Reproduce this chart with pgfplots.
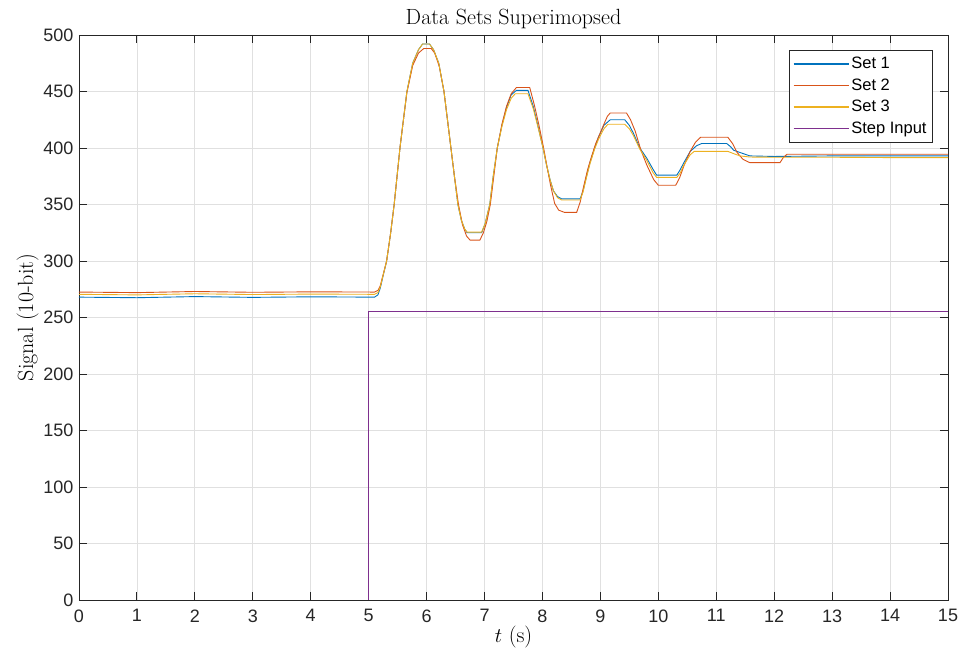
\documentclass[border=0pt]{standalone}
\usepackage{fontspec}
\usepackage{pgfplots}
\pgfplotsset{compat=1.18}
\newfontfamily\hv{Liberation Sans}
\definecolor{mblue}{rgb}{0,0.447,0.741}
\definecolor{mred}{rgb}{0.85,0.325,0.098}
\definecolor{myellow}{rgb}{0.929,0.694,0.125}
\definecolor{mpurple}{rgb}{0.494,0.184,0.556}
\definecolor{axgray}{rgb}{0.15,0.15,0.15}
\begin{document}
\begin{tikzpicture}
\begin{axis}[
  scale only axis,
  width=869pt, height=565pt,
  xmin=0, xmax=15, ymin=0, ymax=500,
  xtick={0,1,...,15}, ytick={0,50,...,500},
  grid=major,
  grid style={color=black!12, line width=0.8pt},
  axis line style={color=axgray, line width=0.9pt},
  tick align=inside,
  major tick length=8pt,
  tick style={color=axgray, line width=0.9pt},
  /pgf/number format/assume math mode=true,
  tick label style={font=\fontsize{18}{21}\selectfont\hv, text=axgray},
  xticklabel style={yshift=-6pt},
  yticklabel style={xshift=-2pt},
  title={Data Sets Superimopsed},
  title style={font=\fontsize{22}{26}\selectfont, yshift=-3pt},
  xlabel={$t$ (s)},
  ylabel={Signal (10-bit)},
  label style={font=\fontsize{22}{26}\selectfont},
  xlabel style={yshift=3pt},
  ylabel style={yshift=-2pt},
  legend style={at={(0.9827,0.9735)}, anchor=north east,
    font=\fontsize{16.5}{18}\selectfont\hv, draw=axgray, line width=0.8pt,
    fill=white, inner xsep=4pt, inner ysep=5pt, row sep=4.5pt,
    nodes={inner sep=2pt}},
  legend cell align=left,
  legend image code/.code={\draw[#1, line width=1.3pt] (0pt,0pt) -- (55pt,0pt);},
  every axis plot/.append style={line width=0.9pt},
]
% Set 1
\addplot[mblue] coordinates {
(0,268) (1,267.5) (2,268.5) (3,267.8) (4,268.3) (5.10,268)
(5.16,270) (5.20,276) (5.25,287) (5.31,300) (5.38,325) (5.44,350) (5.49,375)
(5.54,400) (5.60,425) (5.66,450) (5.76,475) (5.86,487) (5.93,492) (6.05,492)
(6.12,487) (6.21,475) (6.30,450) (6.36,425) (6.42,400) (6.48,375) (6.54,350)
(6.60,336) (6.66,328) (6.70,325) (6.95,325) (7.01,333) (7.09,350) (7.15,375)
(7.22,400) (7.30,420) (7.38,436) (7.46,447) (7.55,451) (7.75,451) (7.84,437)
(7.92,420) (8.01,400) (8.07,385) (8.13,372) (8.19,362) (8.26,357) (8.33,355)
(8.65,355) (8.70,362) (8.76,375) (8.82,387) (8.90,400) (8.97,410) (9.06,420)
(9.17,425) (9.42,425) (9.50,420) (9.57,413) (9.68,400) (9.80,391) (9.91,381)
(9.97,376) (10.32,376) (10.38,381) (10.43,386) (10.55,397) (10.66,402)
(10.75,404) (11.18,404) (11.25,401) (11.30,398) (11.41,396) (11.58,393)
(12,392.5) (13,393) (14,393) (15,393)
};
\addlegendentry{Set 1}
% Set 2
\addplot[mred] coordinates {
(0,272.5) (1,272) (2,273) (3,272.3) (4,272.7) (5.10,272.5)
(5.16,274) (5.20,278) (5.25,288) (5.31,300) (5.38,325) (5.44,350) (5.49,375)
(5.54,400) (5.60,425) (5.66,449) (5.76,473) (5.86,484) (5.95,488) (6.08,488)
(6.14,484) (6.22,472) (6.30,450) (6.36,425) (6.42,400) (6.48,375) (6.55,350)
(6.62,332) (6.69,322) (6.75,318.5) (6.92,318.5) (6.98,325) (7.04,335) (7.10,350)
(7.16,375) (7.22,400) (7.30,421) (7.38,437) (7.46,448) (7.55,453.5) (7.78,453.5)
(7.86,438) (7.94,420) (8.02,400) (8.08,383) (8.14,367) (8.21,351) (8.28,345)
(8.38,343) (8.59,343) (8.65,352) (8.72,368) (8.78,381) (8.85,393) (8.92,404)
(8.97,410) (9.06,421) (9.12,428) (9.17,431) (9.45,431) (9.52,425) (9.60,415)
(9.70,398) (9.80,385) (9.92,372) (10.00,367) (10.30,367) (10.37,374) (10.44,384)
(10.55,397) (10.64,405) (10.73,409.5) (11.20,409.5) (11.28,404) (11.36,396)
(11.46,390) (11.58,387) (12.10,387) (12.15,391) (12.22,394.5) (13,394.5)
(14,394.5) (15,394.5)
};
\addlegendentry{Set 2}
% Set 3
\addplot[myellow] coordinates {
(0,270.5) (1,270) (2,271) (3,270.3) (4,270.7) (5.10,270.5)
(5.16,272) (5.20,277) (5.25,287.5) (5.31,300) (5.38,325) (5.44,350) (5.49,375)
(5.54,400) (5.60,425) (5.66,450) (5.76,475) (5.86,487) (5.93,492) (6.05,492)
(6.12,487) (6.21,475) (6.30,450) (6.36,425) (6.42,400) (6.48,375) (6.54,350)
(6.60,336) (6.66,328) (6.70,325.5) (6.95,325.5) (7.01,333) (7.09,350) (7.15,375)
(7.22,400) (7.30,419) (7.38,434) (7.46,444) (7.53,448) (7.75,448) (7.84,435)
(7.92,419) (8.01,400) (8.07,385) (8.13,372) (8.19,362) (8.26,356) (8.33,354)
(8.65,354) (8.70,361) (8.76,374) (8.82,386) (8.90,399) (8.97,408) (9.06,417)
(9.13,421) (9.42,421) (9.50,417) (9.57,411) (9.68,399) (9.80,389) (9.91,378)
(9.97,374) (10.32,374) (10.38,378) (10.43,384) (10.55,394) (10.62,397)
(11.20,397) (11.30,395) (11.41,393) (11.58,392) (12,391.8) (13,391.8)
(14,391.5) (15,391.5)
};
\addlegendentry{Set 3}
% Step input
\addplot[mpurple] coordinates {(0,0) (5,0) (5,255) (15,255)};
\addlegendentry{Step Input}
\end{axis}
\path (current axis.south west) ++(-79pt,-56pt) coordinate (bl);
\path (current axis.north east) ++(15pt,35pt) coordinate (tr);
\useasboundingbox (bl) rectangle (tr);
\end{tikzpicture}
\end{document}
